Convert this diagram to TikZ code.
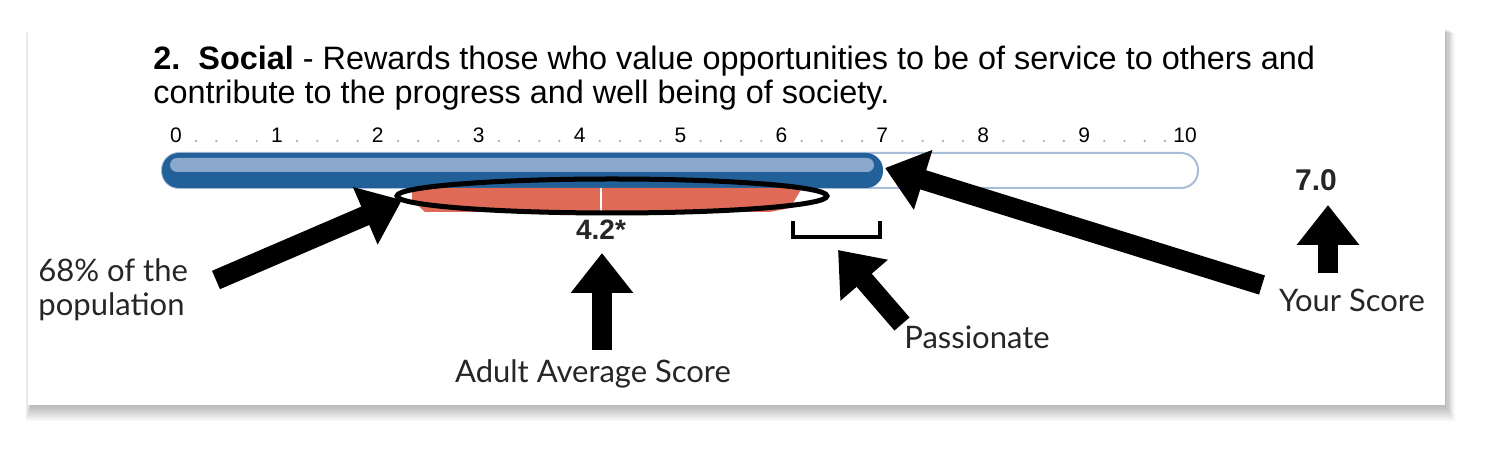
\documentclass[tikz,border=0pt]{standalone}
\usepackage{fontspec}
\setmainfont{Liberation Sans}
\newfontfamily\lab{Lato}
\usetikzlibrary{arrows.meta,shapes.geometric}
\definecolor{barblue}{HTML}{22609A}
\definecolor{barlight}{HTML}{8AA8CC}
\definecolor{barred}{HTML}{E06A58}
\definecolor{outline}{HTML}{A9BCD8}
\begin{document}
\begin{tikzpicture}[x=0.5pt,y=-0.5pt,
  big/.style={line width=10pt,-{Triangle[length=20pt,width=30pt]}},
  lbl/.style={font=\lab\fontsize{15.5}{18}\selectfont,text=black!85},
  tick/.style={font=\fontsize{10.5}{12}\selectfont}]
\useasboundingbox (0,0) rectangle (1500,458);
\fill[white] (0,0) rectangle (1500,458);
% shadow
\foreach \i in {1,...,8}{
  \fill[black,opacity=0.035] (28-\i*0.8+4,28+\i*0.6) rectangle (1445+\i*1.2,405+\i*2);
}
\node[draw=none,fill=white,minimum width=708.5pt,minimum height=188.5pt,inner sep=0,anchor=north west] (card) at (28,28) {};
% title
\node[anchor=base west,inner sep=0,font=\fontsize{16.2}{19}\selectfont] (t1) at (153,70) {\textbf{2.\ \ Social} - Rewards those who value opportunities to be of service to others and};
\node[anchor=base west,inner sep=0,font=\fontsize{16.2}{19}\selectfont] (t2) at (153,104) {contribute to the progress and well being of society.};
% ticks
\foreach \n in {0,...,10}{
  \node[tick,anchor=base,inner sep=0] (k\n) at ({176+100.9*\n},143) {\n};
}
\foreach \n in {0,...,9}{
  \foreach \d in {1,...,4}{
    \fill[black!35] ({176+100.9*\n+100.9*\d/5},141) circle (1.2);
  }
}
% bar
\draw[outline,line width=1pt,fill=white,rounded corners=8.5pt] (162,153) rectangle (1198,188);
\fill[barblue,rounded corners=8.5pt] (162,153) rectangle (883,188);
\fill[barlight,rounded corners=3.5pt] (170,158) rectangle (874,172);
% red band
\fill[barred] (412,188) -- (802,188) -- (790,208) -- (770,212) -- (425,212) -- (412,200) -- cycle;
\draw[white,line width=0.8pt] (601,188) -- (601,212);
\node[draw,line width=2.5pt,ellipse,minimum width=215pt,minimum height=17pt,inner sep=0] (ell) at (612,196) {};
\node[inner sep=0,font=\fontsize{14}{16}\selectfont\bfseries,text=black!85] (avg) at (601,230) {4.2*};
\draw[line width=2pt] (793,221) -- (793,237) -- (880,237) -- (880,221);
\node[inner sep=0,font=\fontsize{15}{17}\selectfont\bfseries,text=black!85] (you) at (1316,180) {7.0};
% labels
\node[lbl,anchor=north west,align=left,inner sep=0] (pop) at (38,258) {68\% of the\\[-1pt]population};
\node[lbl,anchor=center,inner sep=0] (aas) at (593,374) {Adult Average Score};
\node[lbl,anchor=center,inner sep=0] (pas) at (977,337) {Passionate};
\node[lbl,anchor=center,inner sep=0] (ys) at (1352,300) {Your Score};
% arrows
\coordinate (a1) at (216,280); \coordinate (h1) at (402,200);
\coordinate (a2) at (602,350); \coordinate (h2) at (602,253);
\coordinate (a3) at (902,324); \coordinate (h3) at (838,250);
\coordinate (a4) at (1262,285); \coordinate (h4) at (885,168);
\coordinate (a5) at (1328,273); \coordinate (h5) at (1328,205);
\draw[big] (a1) -- (h1);
\draw[big] (a2) -- (h2);
\draw[big] (a3) -- (h3);
\draw[big] (a4) -- (h4);
\draw[big] (a5) -- (h5);
\end{tikzpicture}
\end{document}
